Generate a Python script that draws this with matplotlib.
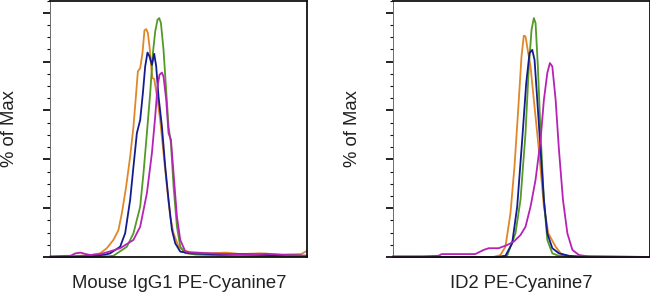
import matplotlib.pyplot as plt
from matplotlib.ticker import MultipleLocator

plt.rcParams['font.family'] = ['Liberation Sans', 'DejaVu Sans']

# histogram traces (x = channel position 0..256, y = % of max)
iso_orange_x = [0, 20, 40, 49.5, 56.2, 62.8, 67.8, 71.2, 75.5, 79.5, 82.8, 85.5, 87.2, 89.5, 91.8, 93.8, 95.5,
                97.2, 98.8, 100.5, 101.8, 103.5, 106.2, 109.5, 112.8, 116.2, 119.5, 122.8, 127.8, 132.8,
                140, 160, 175, 190, 210, 230, 250, 256]
iso_orange_y = [0, 0.3, 0.8, 1.5, 3.6, 7, 11, 17.9, 28.8, 41.1, 53.4, 67.1, 76, 77.3, 83.5, 92.8, 93.3,
                91.7, 86.2, 78, 73.2, 72.9, 66, 56, 42.5, 28.8, 16.5, 9.7, 4.2, 2.6,
                2, 1.5, 1.8, 1.2, 1.5, 1, 1.2, 2.5]

iso_green_x = [0, 50, 62.8, 76.2, 82.8, 89.5, 92.8, 96.2, 99.5, 102.2, 104.5, 106.8, 108.5, 110.2, 112.8,
               115.2, 117.8, 120.2, 122.8, 126.2, 129.5, 134.5, 145, 180, 256]
iso_green_y = [0, 0, 0.5, 4.2, 9.7, 20.6, 34.3, 50.7, 67.1, 83.5, 92.3, 97.1, 97.8, 95.8, 84.8,
               69.8, 53.4, 46.6, 28.8, 12.4, 4.2, 1.6, 1, 0.5, 0.3]

iso_blue_x = [0, 40, 55, 59.5, 69.5, 74.5, 79.5, 82.8, 86.2, 89.5, 92.2, 94.5, 96.8, 98.8, 101.2, 103.5,
              105.5, 107.8, 111.2, 114.5, 117.8, 121.2, 124.5, 129.5, 140, 170, 190, 220, 256]
iso_blue_y = [0, 0.3, 1, 1.5, 4.2, 9.7, 23.4, 37, 50.7, 56.1, 67.1, 78, 83.7, 82.1, 78.7, 83.2,
              78, 65.7, 53.4, 37, 23.4, 11.1, 5.6, 2.2, 1.5, 1, 1.2, 0.8, 0.5]

iso_magenta_x = [0, 20, 25, 30, 35, 40, 50, 59.5, 69.5, 82.8, 89.5, 96.2, 101.2, 104.5, 106.8, 108.8,
                 111.2, 112.8, 115.5, 117.8, 120.2, 122.8, 126.2, 129.5, 134.5, 140, 160, 180, 200,
                 215, 235, 256]
iso_magenta_y = [0.3, 0.5, 1.5, 1.8, 1.2, 0.8, 1.2, 2.3, 3.6, 7, 12.4, 26.1, 42.5, 57.5, 69.8, 74.6,
                 75.5, 73.9, 64.3, 50.7, 48, 34.3, 16.5, 7, 2.3, 1.8, 1.5, 1.2, 1, 1.3, 0.8, 0.5]

id2_orange_x = [0, 100, 107, 112, 117, 121, 124.7, 128, 130.3, 132, 134.7, 137, 140.3, 145.3, 150.3,
                154.7, 162, 167, 175, 257]
id2_orange_y = [0, 0, 0.8, 4.2, 17.9, 37, 60.2, 82.1, 90.6, 90.3, 83.5, 78, 64.3, 43.9, 20.6,
                9.7, 4.2, 1.5, 0, 0]

id2_green_x = [0, 105, 113.7, 122, 127, 132, 135.3, 138, 140.3, 142, 144.3, 147, 150.3, 153.7, 158.7,
               165, 257]
id2_green_y = [0, 0, 0.5, 9.7, 23.4, 50.7, 78, 93, 97.8, 95.8, 78, 50.7, 23.4, 7, 1.5, 0.5, 0]

id2_blue_x = [0, 105, 112, 118.7, 123.7, 128.7, 132.7, 136, 138.7, 141, 143.7, 147, 150.3, 153.7,
              158.7, 165.3, 175.3, 185, 257]
id2_blue_y = [0, 0, 0.5, 5.6, 20.6, 48, 71.2, 83.5, 84.8, 80.7, 64.3, 43.9, 23.4, 9.7,
              3.6, 1.5, 0.5, 0, 0]

id2_magenta_x = [0, 30, 45.3, 48.7, 82, 90.3, 95.3, 105.3, 113.7, 120.3, 127, 132, 137, 142, 147,
                 150.3, 153.7, 156.3, 158.7, 162, 165.3, 169.3, 173.7, 178.7, 185.3, 195.3, 257]
id2_magenta_y = [0.3, 0.3, 0.5, 1.2, 1.2, 2.9, 3.6, 3.6, 4.9, 6.3, 9, 12.4, 20.6, 31.6, 48,
                 64.3, 75.3, 79.4, 78, 64.3, 43.9, 23.4, 9.7, 2.9, 0.8, 0.2, 0]

ORANGE = '#e0872a'
GREEN = '#539a26'
BLUE = '#141c8e'
MAGENTA = '#b622b6'

fig = plt.figure(figsize=(6.5, 2.92), dpi=100)
ax1 = fig.add_axes([50.5 / 650, 35 / 292, 256.5 / 650, 256.5 / 292])
ax2 = fig.add_axes([393 / 650, 35 / 292, 257 / 650, 256.5 / 292])

panels = [
    (ax1, 'Mouse IgG1 PE-Cyanine7',
     [(iso_orange_x, iso_orange_y, ORANGE), (iso_green_x, iso_green_y, GREEN),
      (iso_blue_x, iso_blue_y, BLUE), (iso_magenta_x, iso_magenta_y, MAGENTA)]),
    (ax2, 'ID2 PE-Cyanine7',
     [(id2_orange_x, id2_orange_y, ORANGE), (id2_green_x, id2_green_y, GREEN),
      (id2_blue_x, id2_blue_y, BLUE), (id2_magenta_x, id2_magenta_y, MAGENTA)]),
]

for ax, xlab, curves in panels:
    for xs, ys, c in curves:
        ax.plot(xs, ys, color=c, lw=1.3, clip_on=False)
    ax.set_xlim(0, 256)
    ax.set_ylim(0, 105)
    ax.set_xticks([])
    ax.yaxis.set_major_locator(MultipleLocator(20))
    ax.yaxis.set_minor_locator(MultipleLocator(5))
    ax.tick_params(axis='y', which='major', length=5, width=1.3, color='#111', labelleft=False)
    ax.tick_params(axis='y', which='minor', length=2.3, width=0.8, color='#111')
    ax.spines['left'].set_linewidth(0.6)
    ax.spines['left'].set_color('#555')
    for s in ['top', 'right', 'bottom']:
        ax.spines[s].set_linewidth(1.3)
        ax.spines[s].set_color('#111')
    ax.set_xlabel(xlab, fontsize=13.3, color='#222')
    ax.set_ylabel('% of Max', fontsize=13.3, color='#222')
    ax.xaxis.set_label_coords(0.5, -0.072)
    ax.yaxis.set_label_coords(-0.125, 0.5)

fig.savefig('out.png', dpi=100)
